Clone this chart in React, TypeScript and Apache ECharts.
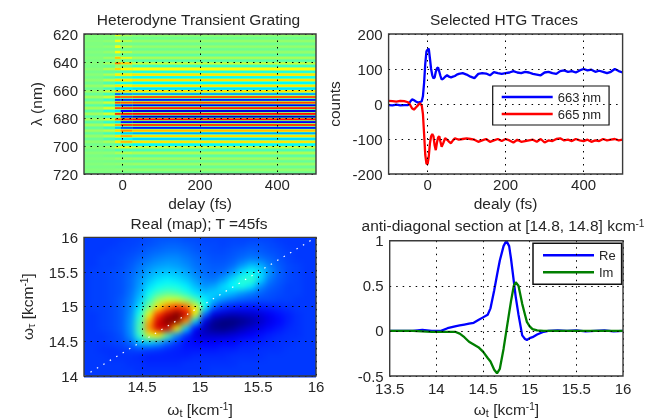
import React, { useEffect, useRef } from "react";
import * as echarts from "echarts";

const FONT = "'Liberation Sans', Arial, sans-serif";
const TXT = "#262626";
const JET = ["#00007f", "#0000ff", "#007fff", "#00ffff", "#7fff7f", "#ffff00", "#ff7f00", "#ff0000", "#7f0000"];
const ZERO_GREEN = "#7fff7f";
const EDGE_WARM = "#d8ff30";
const EDGE_COOL = "#30ffd8";

// ---- Heterodyne Transient Grating: bands, centred on odd wavelengths 621..719 nm
const wavelengthCenters = [
  621, 623, 625, 627, 629, 631, 633, 635, 637, 639,
  641, 643, 645, 647, 649, 651, 653, 655, 657, 659,
  661, 663, 665, 667, 669, 671, 673, 675, 677, 679,
  681, 683, 685, 687, 689, 691, 693, 695, 697, 699,
  701, 703, 705, 707, 709, 711, 713, 715, 717, 719,
];
const delayEdges = [-170, -50, -20, -5, 25, 570];
const bandsFar = [
  1, 0, 1, 0, 1, -1, 1, -1, 1, -1,
  1, -1, 2, -2, 2, -2, 3, -3, 4, -4,
  5, -5, 6, -6, 6, -7, 7, -7, 7, -7,
  7, -7, 6, -6, 6, -5, 4, -4, 3, -3,
  2, -2, 2, -1, 1, -1, 1, -1, 1, -1,
];
const bandsNear = [
  2, -1, 3, -2, 3, -2, 4, -3, 6, -4,
  8, -5, 10, -6, 10, -8, 12, -10, 12, -12,
  14, -14, 14, -16, 16, -16, 18, -18, 18, -16,
  16, -16, 16, -14, 12, -12, 10, -10, 8, -6,
  5, -4, 3, -3, 2, -2, 2, -1, 1, -1,
];
const bandsEdge = [
  20, 0, 22, -2, 22, -2, 25, -4, 36, 8,
  50, 4, 32, -10, 28, -16, 30, -22, 30, -28,
  38, -55, 60, -65, 60, -50, 60, -30, 65, -10,
  55, -30, 40, -35, 32, -22, 30, -18, 28, -15,
  18, -10, 8, -5, 5, -3, 3, -2, 2, -2,
];
const bandsAfter = [
  8, -2, 10, -3, 10, -4, 12, -5, 20, -5,
  36, -4, 26, -12, 28, -16, 28, -20, 28, -26,
  32, -45, 55, -65, 58, -70, 65, -75, 70, -72,
  68, -70, 60, -60, 48, -36, 42, -26, 38, -20,
  20, -10, 10, -6, 6, -4, 4, -3, 3, -2,
];
const bandsSteady = [
  3, -3, 4, -3, 4, -4, 4, -6, 8, -8,
  14, -14, 24, -20, 30, -22, 30, -26, 30, -30,
  30, -42, 58, -70, 62, -78, 68, -82, 72, -86,
  72, -78, 62, -70, 38, -42, 32, -32, 30, -26,
  14, -10, 8, -7, 6, -5, 5, -4, 4, -3,
];
const bandColumns = [bandsFar, bandsNear, bandsEdge, bandsAfter, bandsSteady];

// ---- Selected HTG Traces
const traceDelay = [
  -100, -90, -80, -70, -60, -50, -45, -40, -35, -30, -25, -20, -15, -12, -9, -6, -3, 0, 3, 6,
  9, 12, 15, 18, 21, 24, 27, 30, 33, 36, 40, 45, 50, 55, 60, 65, 70, 75, 80, 90,
  100, 110, 120, 130, 140, 150, 160, 170, 180, 190, 200, 210, 220, 230, 240, 250, 260, 270, 280, 290,
  300, 310, 320, 330, 340, 350, 360, 370, 380, 390, 400, 410, 420, 430, 440, 450, 460, 470, 480, 490, 500,
];
const trace663 = [
  -3, -4, -2, -4, -3, -3, 6, 13, 11, 7, 4, 5, 8, 22, 60, 115, 150, 155, 158, 130,
  100, 82, 73, 76, 92, 102, 104, 92, 80, 70, 72, 78, 82, 78, 76, 78, 80, 84, 86, 88,
  84, 78, 74, 86, 88, 87, 82, 91, 88, 86, 88, 90, 94, 90, 88, 92, 90, 86, 84, 82,
  90, 92, 88, 86, 94, 96, 92, 94, 90, 96, 100, 96, 98, 92, 95, 92, 88, 92, 100, 94, 90,
];
const trace665 = [
  9, 8, 7, 9, 8, 5, -2, -12, -16, -10, -4, 2, -4, -28, -85, -145, -170, -172, -150, -112,
  -92, -86, -92, -118, -132, -110, -96, -92, -108, -122, -112, -98, -102, -108, -112, -104, -98, -100, -102, -100,
  -98, -100, -102, -108, -104, -100, -108, -104, -100, -106, -100, -104, -110, -102, -108, -106, -104, -102, -108, -100,
  -110, -104, -106, -100, -98, -104, -102, -106, -100, -104, -106, -102, -108, -104, -106, -100, -104, -102, -100, -104, -102,
];

// ---- Real (map): rows run from w_tau = 16 down to 14, columns from w_t = 14 up to 16
const mapOmegaT = [
  14, 14.08, 14.16, 14.24, 14.32, 14.4, 14.48, 14.56, 14.64, 14.72, 14.8, 14.88, 14.96,
  15.04, 15.12, 15.2, 15.28, 15.36, 15.44, 15.52, 15.6, 15.68, 15.76, 15.84, 15.92, 16,
];
const mapOmegaTau = [16, 15.9, 15.8, 15.7, 15.6, 15.5, 15.4, 15.3, 15.2, 15.1, 15, 14.9, 14.8, 14.7, 14.6, 14.5, 14.4, 14.3, 14.2, 14.1, 14];
const mapRows = [
  [0, 0, 0, 0, 0, 1, 1, 2, 3, 3, 3, 2, 2, 1, 1, 1, 1, 1, 1, 1, 1, 0, 0, 0, 0, 0],
  [0, 0, 0, 0, 1, 1, 2, 3, 4, 5, 5, 4, 3, 2, 2, 1, 2, 2, 3, 3, 2, 1, 0, 0, 0, 0],
  [0, 0, 0, 1, 1, 2, 3, 5, 6, 7, 7, 6, 4, 3, 2, 2, 3, 4, 5, 4, 3, 2, 1, 0, 0, 0],
  [0, 0, 1, 1, 2, 3, 5, 7, 9, 10, 10, 8, 6, 4, 3, 3, 4, 6, 8, 7, 5, 3, 1, 0, 0, 0],
  [0, 0, 1, 1, 2, 4, 7, 10, 12, 13, 12, 10, 7, 5, 4, 4, 6, 11, 16, 14, 8, 4, 2, 1, 0, 0],
  [0, 1, 1, 2, 3, 5, 9, 13, 16, 17, 16, 13, 9, 6, 5, 6, 11, 20, 25, 20, 11, 5, 2, 1, 0, 0],
  [0, 1, 1, 2, 3, 6, 11, 16, 20, 22, 20, 17, 12, 8, 7, 12, 20, 28, 30, 19, 8, 4, 2, 1, 0, 0],
  [0, 1, 1, 2, 3, 6, 12, 20, 25, 27, 26, 22, 16, 11, 13, 19, 24, 27, 21, 10, 5, 3, 1, 1, 0, 0],
  [0, 1, 1, 2, 3, 7, 14, 25, 32, 35, 33, 28, 21, 17, 18, 18, 15, 11, 8, 5, 3, 2, 1, 1, 0, 0],
  [0, 1, 1, 2, 4, 8, 17, 31, 44, 50, 50, 44, 34, 23, 15, 9, 6, 4, 3, 2, 2, 1, 1, 0, 0, 0],
  [0, 1, 1, 2, 4, 9, 21, 39, 58, 72, 80, 74, 56, 26, 4, -2, -4, -5, -5, -4, -3, -2, -1, 0, 0, 0],
  [0, 0, 1, 2, 4, 10, 27, 52, 78, 92, 100, 90, 52, 6, -10, -13, -15, -14, -13, -11, -8, -5, -3, -1, 0, 0],
  [0, 0, 1, 2, 4, 11, 31, 64, 90, 100, 98, 66, 18, -10, -19, -22, -22, -20, -17, -13, -9, -6, -3, -1, 0, 0],
  [0, 0, 1, 2, 4, 11, 33, 68, 90, 90, 56, 18, -6, -15, -20, -21, -19, -15, -12, -9, -6, -4, -2, -1, 0, 0],
  [0, 0, 0, 1, 3, 10, 30, 50, 54, 34, 10, -2, -10, -13, -13, -13, -11, -9, -7, -5, -3, -2, -1, -1, 0, 0],
  [0, 0, 0, 1, 2, 6, 16, 18, 14, 6, 0, -5, -6, -7, -7, -6, -6, -4, -3, -3, -2, -1, -1, 0, 0, 0],
  [0, 0, -1, -1, 0, 1, 2, 1, 0, -2, -3, -4, -4, -4, -4, -3, -3, -2, -2, -1, -1, -1, 0, 0, 0, 0],
  [0, 0, 0, -1, -1, -1, -2, -3, -3, -3, -3, -3, -2, -2, -2, -2, -1, -1, -1, -1, 0, 0, 0, 0, 0, 0],
  [0, 0, 0, 0, 0, -1, -1, -2, -2, -2, -2, -1, -1, -1, -1, -1, -1, 0, 0, 0, 0, 0, 0, 0, 0, 0],
  [0, 0, 0, 0, 0, 0, -1, -1, -1, -1, -1, -1, -1, -1, 0, 0, 0, 0, 0, 0, 0, 0, 0, 0, 0, 0],
  [0, 0, 0, 0, 0, 0, 0, 0, 0, 0, 0, 0, 0, 0, 0, 0, 0, 0, 0, 0, 0, 0, 0, 0, 0, 0],
];
const diagonalEnds = [14, 16];

// ---- Anti-diagonal section
const sectionX = [
  13.5, 13.7, 13.75, 13.85, 13.95, 14.05, 14.12, 14.2, 14.25, 14.3, 14.35, 14.4, 14.45, 14.5, 14.55, 14.58,
  14.62, 14.65, 14.68, 14.72, 14.75, 14.78, 14.8, 14.83, 14.85, 14.88, 14.92, 14.95, 14.97, 15, 15.03, 15.08,
  15.15, 15.2, 15.3, 15.4, 15.5, 15.6, 15.7, 15.8, 15.9, 16,
];
const sectionRe = [
  0, 0, 0, 0.01, 0, 0, 0.03, 0.05, 0.06, 0.07, 0.08, 0.09, 0.12, 0.15, 0.18, 0.25,
  0.45, 0.62, 0.78, 0.94, 1, 0.94, 0.8, 0.55, 0.38, 0.18, -0.05, -0.09, -0.1, -0.08, -0.07, -0.04,
  -0.01, 0, 0.005, 0, 0.005, -0.005, 0, 0.005, -0.005, 0,
];
const sectionIm = [
  0, 0, 0, -0.005, -0.01, -0.01, -0.01, -0.01, -0.03, -0.07, -0.12, -0.15, -0.18, -0.23, -0.3, -0.34,
  -0.43, -0.47, -0.42, -0.2, 0, 0.2, 0.33, 0.5, 0.54, 0.5, 0.3, 0.18, 0.1, 0.05, 0.02, 0.005,
  0, 0, 0, 0, 0, 0, 0, 0, 0, 0,
];

const titles = [
  { text: "Heterodyne Transient Grating", x: 198.5, y: 12 },
  { text: "Selected HTG Traces", x: 504, y: 12 },
  { text: "Real (map); T =45fs", x: 199, y: 216 },
  { text: "anti-diagonal section at [14.8, 14.8] kcm{sup|-1}", x: 503, y: 218 },
];

const PANELS = [
  { left: 84, top: 34, width: 232, height: 140 },
  { left: 388.6, top: 34, width: 234, height: 140 },
  { left: 84, top: 237.4, width: 232, height: 140 },
  { left: 389.7, top: 240.7, width: 233.3, height: 136.4 },
];

const richText = {
  sup: { fontSize: 10, verticalAlign: "top", lineHeight: 10, padding: [0, 0, 4, 0], fontFamily: FONT, color: TXT },
  sub: { fontSize: 11, verticalAlign: "bottom", padding: [6, 0, 0, 0], fontFamily: FONT, color: TXT },
};

function cellItem(params: any, api: any) {
  const a = api.coord([api.value(0), api.value(2)]);
  const b = api.coord([api.value(1), api.value(3)]);
  return {
    type: "rect",
    shape: {
      x: Math.min(a[0], b[0]),
      y: Math.min(a[1], b[1]),
      width: Math.abs(b[0] - a[0]) + 1,
      height: Math.abs(b[1] - a[1]) + 1,
    },
    style: { fill: api.visual("color") },
  };
}

// A strong band passes through the colormap's yellow or cyan on its way to the next one.
function bandItem(params: any, api: any) {
  const a = api.coord([api.value(0), api.value(2)]);
  const b = api.coord([api.value(1), api.value(3)]);
  const c = api.visual("color");
  const v = api.value(4);
  const edge = Math.abs(v) < 22 ? ZERO_GREEN : v > 0 ? EDGE_WARM : EDGE_COOL;
  return {
    type: "rect",
    shape: {
      x: Math.min(a[0], b[0]),
      y: Math.min(a[1], b[1]),
      width: Math.abs(b[0] - a[0]),
      height: Math.abs(b[1] - a[1]),
    },
    style: {
      fill: new echarts.graphic.LinearGradient(0, 0, 0, 1, [
        { offset: 0, color: edge },
        { offset: 0.3, color: c },
        { offset: 0.7, color: c },
        { offset: 1, color: edge },
      ]),
    },
  };
}

function heatOption(p: any, xr: number[], yr: number[], inverse: boolean, cells: number[][], lo: number, hi: number, item: any) {
  return {
    animation: false,
    grid: { ...p, containLabel: false },
    xAxis: { type: "value", min: xr[0], max: xr[1], show: false },
    yAxis: { type: "value", min: yr[0], max: yr[1], show: false, inverse },
    visualMap: { show: false, type: "continuous", min: lo, max: hi, dimension: 4, seriesIndex: 0, inRange: { color: JET } },
    series: [
      {
        type: "custom",
        renderItem: item,
        clip: false,
        silent: true,
        encode: { x: [0, 1], y: [2, 3] },
        data: cells,
      },
    ],
  };
}

function gratingCells(): number[][] {
  const out: number[][] = [];
  wavelengthCenters.forEach((nm, r) => {
    bandColumns.forEach((col, c) => {
      out.push([delayEdges[c], delayEdges[c + 1], nm - 1, nm + 1, col[r]]);
    });
  });
  return out;
}

function mapCells(): number[][] {
  const out: number[][] = [];
  const dx = 0.04;
  const dy = 0.05;
  mapOmegaTau.forEach((w, r) => {
    mapOmegaT.forEach((t, c) => {
      const x0 = c === 0 ? t - 0.3 : t - dx;
      const x1 = c === mapOmegaT.length - 1 ? t + 0.3 : t + dx;
      const y0 = r === mapOmegaTau.length - 1 ? w - 0.3 : w - dy;
      const y1 = r === 0 ? w + 0.3 : w + dy;
      out.push([x0, x1, y0, y1, mapRows[r][c]]);
    });
  });
  return out;
}

function zip(a: number[], b: number[]) {
  return a.map((v, i) => [v, b[i]]);
}

function axisBase(gridIndex: number) {
  return {
    gridIndex,
    type: "value",
    z: 5,
    axisLine: { show: false },
    axisTick: { show: false },
    splitLine: { show: true, lineStyle: { color: "#000", type: [1.5, 5], width: 1 } },
    axisLabel: { color: TXT, fontFamily: FONT, fontSize: 15, margin: 6, lineHeight: 11, hideOverlap: false },
    nameTextStyle: { color: TXT, fontFamily: FONT, fontSize: 15.5, rich: richText },
    nameLocation: "middle",
  };
}

const fmt = (v: number) => String(v);

function mainOption() {
  return {
    animation: false,
    backgroundColor: "transparent",
    title: titles.map((t) => ({
      text: t.text,
      left: t.x,
      top: t.y,
      textAlign: "center",
      padding: 0,
      textStyle: { color: TXT, fontFamily: FONT, fontSize: 15.5, lineHeight: 14, fontWeight: "normal", rich: richText },
    })),
    grid: PANELS.map((p) => ({ ...p, show: true, borderColor: "#3a3a3a", borderWidth: 1.4, backgroundColor: "transparent", z: 6 })),
    legend: [
      {
        data: ["663 nm", "665 nm"],
        orient: "vertical",
        left: 492.7,
        top: 86,
        icon: "rect",
        padding: [4, 8, 4, 9],
        itemWidth: 51,
        itemHeight: 2.4,
        itemGap: 3,
        backgroundColor: "#fff",
        borderColor: "#111",
        borderWidth: 1.2,
        textStyle: { color: TXT, fontFamily: FONT, fontSize: 13, lineHeight: 14 },
      },
      {
        data: ["Re", "Im"],
        orient: "vertical",
        left: 533,
        top: 243.3,
        icon: "rect",
        padding: [5, 6, 5, 10],
        itemWidth: 51,
        itemHeight: 2.4,
        itemGap: 3,
        backgroundColor: "#fff",
        borderColor: "#111",
        borderWidth: 1.5,
        textStyle: { color: TXT, fontFamily: FONT, fontSize: 13, lineHeight: 14 },
      },
    ],
    xAxis: [
      {
        ...axisBase(0), min: -100, max: 500,
        axisLabel: { ...axisBase(0).axisLabel, margin: 5, customValues: [0, 200, 400], formatter: fmt },
        axisTick: { show: false, customValues: [0, 200, 400] },
        name: "delay (fs)", nameGap: 21,
      },
      {
        ...axisBase(1), min: -100, max: 500,
        axisLabel: { ...axisBase(1).axisLabel, margin: 5, customValues: [0, 200, 400], formatter: fmt },
        axisTick: { show: false, customValues: [0, 200, 400] },
        name: "dealy (fs)", nameGap: 21,
      },
      {
        ...axisBase(2), min: 14, max: 16, interval: 0.5,
        axisLabel: { ...axisBase(2).axisLabel, margin: 5, customValues: [14.5, 15, 15.5, 16], formatter: fmt },
        axisTick: { show: false, customValues: [14.5, 15, 15.5, 16] },
        name: "ω{sub|t} [kcm{sup|-1}]", nameGap: 25,
      },
      {
        ...axisBase(3), min: 13.5, max: 16, interval: 0.5,
        axisLabel: { ...axisBase(3).axisLabel, margin: 6.5, formatter: fmt },
        name: "ω{sub|t} [kcm{sup|-1}]", nameGap: 25,
      },
    ],
    yAxis: [
      {
        ...axisBase(0), min: 620, max: 720, interval: 20, inverse: true,
        name: "λ (nm)", nameGap: 40,
      },
      {
        ...axisBase(1), min: -200, max: 200, interval: 100,
        name: "counts", nameGap: 46,
      },
      {
        ...axisBase(2), min: 14, max: 16, interval: 0.5,
        name: "ω{sub|τ} [kcm{sup|-1}]", nameGap: 48,
      },
      {
        ...axisBase(3), min: -0.5, max: 1, interval: 0.5,
      },
    ],
    series: [
      {
        name: "663 nm", type: "line", xAxisIndex: 1, yAxisIndex: 1, data: zip(traceDelay, trace663),
        showSymbol: false, symbol: "none", z: 3, lineStyle: { color: "#0000ff", width: 2.3 }, itemStyle: { color: "#0000ff" },
      },
      {
        name: "665 nm", type: "line", xAxisIndex: 1, yAxisIndex: 1, data: zip(traceDelay, trace665),
        showSymbol: false, symbol: "none", z: 4, lineStyle: { color: "#ff0000", width: 2.3 }, itemStyle: { color: "#ff0000" },
      },
      {
        name: "diagonal", type: "line", xAxisIndex: 2, yAxisIndex: 2, data: zip(diagonalEnds, diagonalEnds),
        showSymbol: false, symbol: "none", z: 4, lineStyle: { color: "#ffffff", width: 1.2, type: [1.5, 6] },
      },
      {
        name: "Re", type: "line", xAxisIndex: 3, yAxisIndex: 3, data: zip(sectionX, sectionRe),
        showSymbol: false, symbol: "none", z: 3, lineStyle: { color: "#0000ff", width: 2.3 }, itemStyle: { color: "#0000ff" },
      },
      {
        name: "Im", type: "line", xAxisIndex: 3, yAxisIndex: 3, data: zip(sectionX, sectionIm),
        showSymbol: false, symbol: "none", z: 4, lineStyle: { color: "#007f00", width: 2.3 }, itemStyle: { color: "#007f00" },
      },
    ],
  };
}

function insetOf(p: any) {
  return `inset(${p.top}px ${654 - p.left - p.width}px ${419 - p.top - p.height}px ${p.left}px)`;
}

const layer: React.CSSProperties = { position: "absolute", left: 0, top: 0, width: 654, height: 419 };

export default function App() {
  const heat1 = useRef<HTMLDivElement>(null);
  const heat2 = useRef<HTMLDivElement>(null);
  const main = useRef<HTMLDivElement>(null);

  useEffect(() => {
    const a = echarts.init(heat1.current!, undefined, { renderer: "svg" });
    const b = echarts.init(heat2.current!, undefined, { renderer: "svg" });
    const c = echarts.init(main.current!, undefined, { renderer: "svg" });
    a.setOption(heatOption(PANELS[0], [-100, 500], [620, 720], true, gratingCells(), -100, 100, bandItem));
    b.setOption(heatOption(PANELS[2], [14, 16], [14, 16], false, mapCells(), -22, 100, cellItem));
    c.setOption(mainOption());
    return () => {
      a.dispose();
      b.dispose();
      c.dispose();
    };
  }, []);

  return (
    <div style={{ ...layer, background: "#fff", overflow: "hidden" }}>
      <div ref={heat1} style={{ ...layer, background: ZERO_GREEN, filter: "blur(0.3px)", clipPath: insetOf(PANELS[0]) }} />
      <div ref={heat2} style={{ ...layer, filter: "blur(3px)", clipPath: insetOf(PANELS[2]) }} />
      <div ref={main} style={{ ...layer, filter: "blur(0.35px)" }} />
    </div>
  );
}
